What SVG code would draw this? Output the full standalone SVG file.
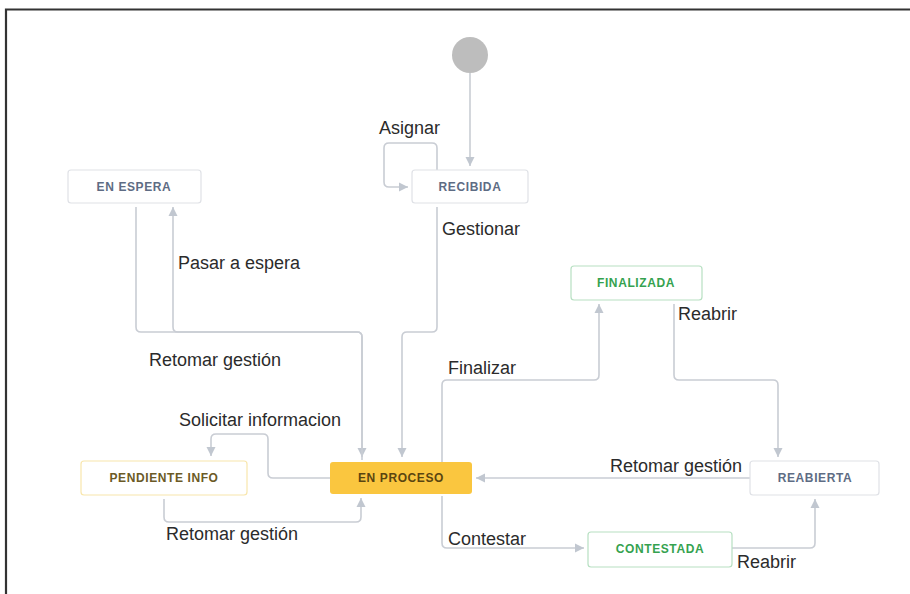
<svg xmlns="http://www.w3.org/2000/svg" width="910" height="594" viewBox="0 0 910 594">
<defs>
<marker id="arr" markerUnits="userSpaceOnUse" markerWidth="10" markerHeight="10" refX="9" refY="5" orient="auto">
<path d="M0,0.5 L9,5 L0,9.5 z" fill="#c1c7d0"/>
</marker>
<style>
.c{fill:none;stroke:#c9cdd4;stroke-width:1.6;marker-end:url(#arr)}
.n{font-family:"Liberation Sans",Arial,sans-serif;font-size:12px;font-weight:bold;letter-spacing:0.6px;text-anchor:middle;dominant-baseline:central}
.l{font-family:"Liberation Sans",Arial,sans-serif;font-size:18px;fill:#2b2b2b}
.g{fill:#fff;stroke:#dfe1e6;stroke-width:1.2}
.gt{fill:#5e6c84}
.gr{fill:#fff;stroke:#b7e0c2;stroke-width:1.2}
.grt{fill:#35a24f}
</style>
</defs>
<rect width="910" height="594" fill="#fff"/>
<path d="M6,594 V9.5 H910" fill="none" stroke="#333" stroke-width="2.2"/>
<g id="connectors">
<path class="c" d="M470,73 V166"/>
<path class="c" d="M437,170 V148 Q437,143 432,143 H389 Q384,143 384,148 V182 Q384,187 389,187 H408"/>
<path class="c" d="M437,207 V327 Q437,332 432,332 H407 Q402,332 402,337 V457"/>
<path class="c" d="M136,207 V327 Q136,332 141,332 H357 Q362,332 362,337 V457"/>
<path class="c" d="M362,460 V337 Q362,332 357,332 H178 Q173,332 173,327 V207"/>
<path class="c" d="M330,478 H273 Q268,478 268,473 V439 Q268,434 263,434 H216 Q211,434 211,439 V456"/>
<path class="c" d="M164,499 V517 Q164,522 169,522 H356 Q361,522 361,517 V498"/>
<path class="c" d="M442,462 V385 Q442,380 447,380 H594 Q599,380 599,375 V304"/>
<path class="c" d="M674,304 V375 Q674,380 679,380 H773 Q778,380 778,385 V457"/>
<path class="c" d="M750,478 H476"/>
<path class="c" d="M442,496 V543 Q442,548 447,548 H584"/>
<path class="c" d="M732,548 H810 Q815,548 815,543 V499"/>
</g>
<g id="start"><circle cx="470" cy="55" r="18" fill="#bdbdbd"/></g>
<g id="recibida"><rect class="g" x="412" y="170" width="116" height="33" rx="3"/><text class="n gt" x="470" y="187">RECIBIDA</text></g>
<g id="en-espera"><rect class="g" x="68" y="170" width="133" height="33" rx="3"/><text class="n gt" x="134" y="187">EN ESPERA</text></g>
<g id="finalizada"><rect class="gr" x="571" y="266" width="131" height="34" rx="3"/><text class="n grt" x="636" y="283">FINALIZADA</text></g>
<g id="pendiente-info"><rect x="81" y="461" width="166" height="34" rx="3" fill="#fff" stroke="#f8e6ac" stroke-width="1.2"/><text class="n" fill="#6b5a26" x="164" y="478">PENDIENTE INFO</text></g>
<g id="en-proceso"><rect x="330" y="462" width="142" height="32" rx="3" fill="#fac63f"/><text class="n" fill="#5a4510" x="401" y="478">EN PROCESO</text></g>
<g id="reabierta"><rect class="g" x="750" y="461" width="129" height="34" rx="3"/><text class="n gt" x="815" y="478">REABIERTA</text></g>
<g id="contestada"><rect class="gr" x="588" y="532" width="144" height="35" rx="3"/><text class="n grt" x="660" y="549">CONTESTADA</text></g>
<g id="labels">
<text class="l" x="379" y="134">Asignar</text>
<text class="l" x="442" y="235">Gestionar</text>
<text class="l" x="178" y="269">Pasar a espera</text>
<text class="l" x="149" y="366">Retomar gestión</text>
<text class="l" x="448" y="374">Finalizar</text>
<text class="l" x="678" y="320">Reabrir</text>
<text class="l" x="179" y="426">Solicitar informacion</text>
<text class="l" x="166" y="540">Retomar gestión</text>
<text class="l" x="448" y="545">Contestar</text>
<text class="l" x="610" y="472">Retomar gestión</text>
<text class="l" x="737" y="568">Reabrir</text>
</g>
</svg>
